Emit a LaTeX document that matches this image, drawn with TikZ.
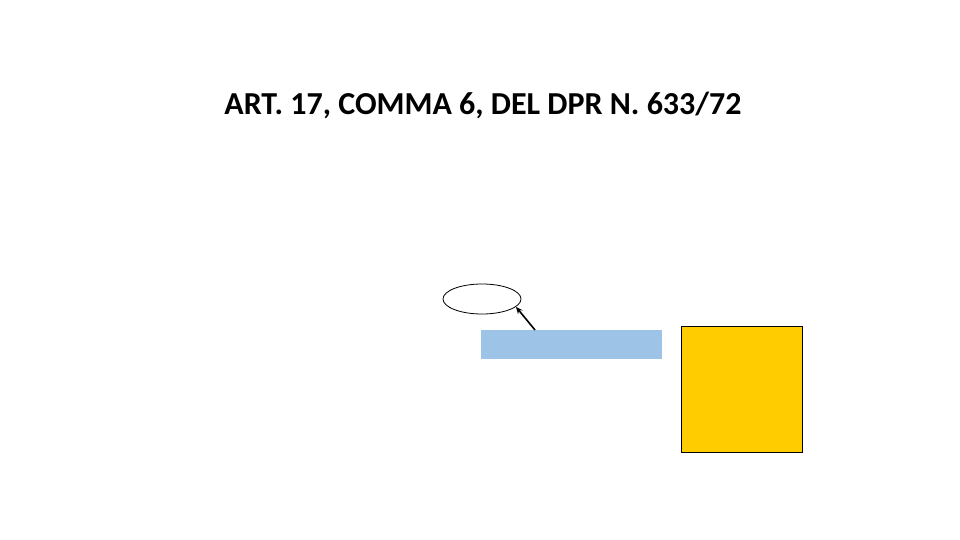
\documentclass[tikz,border=0pt]{standalone}
\usepackage{fontspec}
\setmainfont{Carlito}
\usetikzlibrary{arrows.meta,shapes.geometric}
\definecolor{barblue}{HTML}{9DC3E6}
\definecolor{boxyellow}{HTML}{FFCC00}
\tikzset{
  titletext/.style={font=\bfseries\fontsize{32}{36}\selectfont, inner sep=0pt, anchor=base},
  bubble/.style={ellipse, draw=black, line width=0.8pt, minimum width=78pt, minimum height=30pt, inner sep=0pt},
  bar/.style={rectangle, fill=barblue, minimum width=181pt, minimum height=29pt, inner sep=0pt},
  square/.style={rectangle, draw=black, line width=0.6pt, fill=boxyellow, minimum width=121pt, minimum height=126pt, inner sep=0pt},
  pointer/.style={-{Stealth[length=7pt,width=6pt]}, line width=1.6pt}
}
\begin{document}
\begin{tikzpicture}[x=1pt,y=-1pt]
\useasboundingbox (0,0) rectangle (960,540);
\node[titletext] (title) at (483,115) {ART. 17, COMMA 6, DEL DPR N. 633/72};
\node[bubble] (ell) at (482,299) {};
\node[bar] (bar) at (571.5,344.5) {};
\node[square] (sq) at (741.5,389) {};
\coordinate (s) at (535,330);
\draw[pointer] (s) -- (ell.-13);
\end{tikzpicture}
\end{document}
